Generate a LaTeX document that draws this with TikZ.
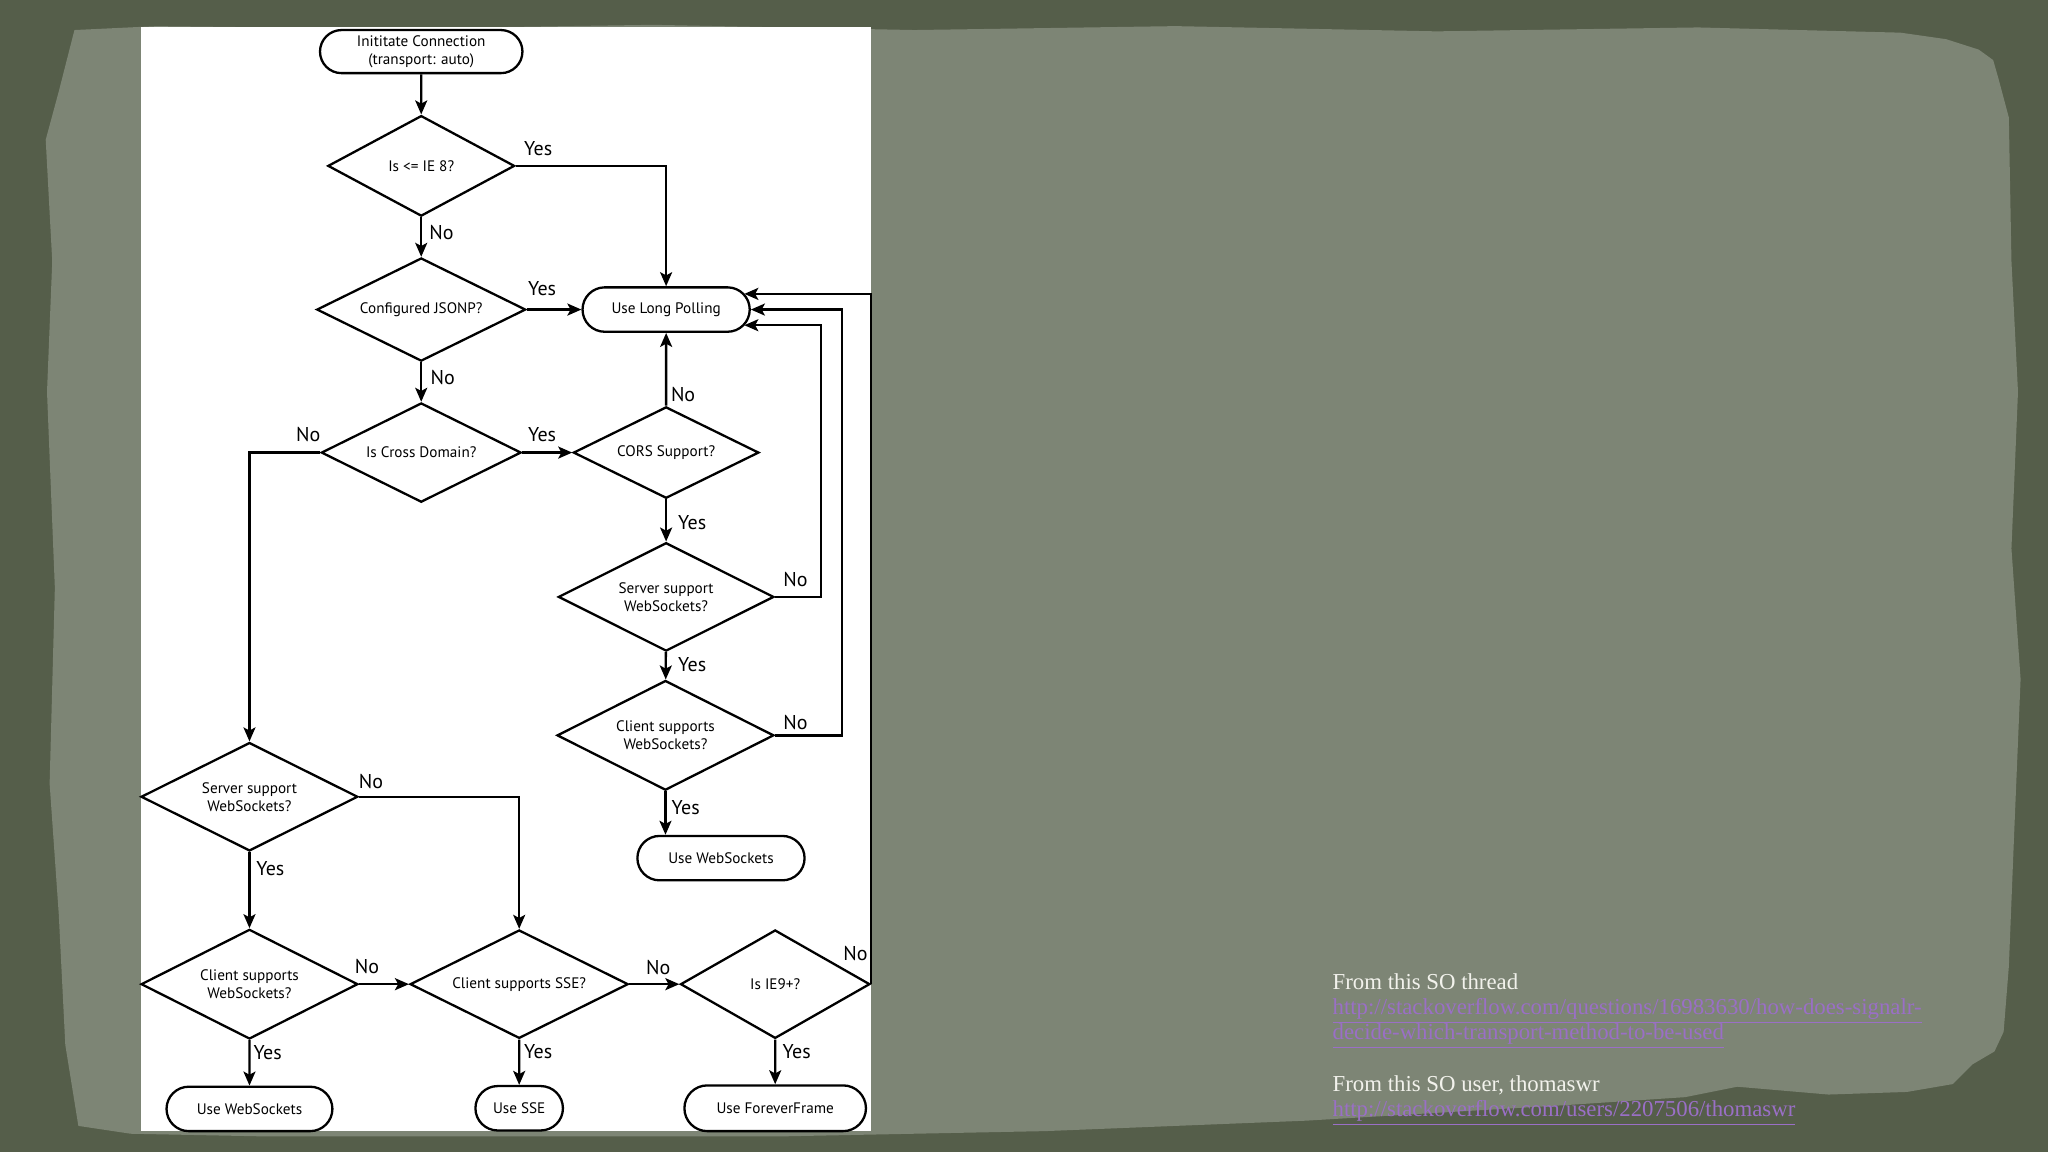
\documentclass[tikz,border=0pt]{standalone}
\usepackage{fontspec}
\setmainfont{Liberation Serif}
\newfontfamily\flowfont{PT Sans}
\usetikzlibrary{shapes.geometric,shapes.misc,arrows.meta,calc}
\definecolor{framec}{HTML}{555E4A}
\definecolor{paperc}{HTML}{7D8575}
\definecolor{linkc}{HTML}{9A6FC6}
\definecolor{notec}{HTML}{F2F2EC}
\begin{document}
\begin{tikzpicture}[x=0.65306pt,y=-0.65306pt,
  sz/.style 2 args={minimum width=#1*0.65306pt, minimum height=#2*0.65306pt},
  dec/.style={diamond, draw, line width=1.15pt, inner sep=0pt, aspect=2, align=center,
    font=\flowfont\fontsize{7.6}{9}\selectfont},
  term/.style={rounded rectangle, draw, line width=1.15pt, inner sep=0pt, align=center,
    font=\flowfont\fontsize{7.6}{9}\selectfont},
  arr/.style={line width=1.15pt, -{Stealth[length=7pt,width=6pt,inset=1.6pt]}},
  lbl/.style={font=\flowfont\fontsize{10}{11}\selectfont, inner sep=0pt},
  note/.style={anchor=base west, inner sep=0pt, text=notec, font=\fontsize{11.4}{13}\selectfont},
  linknote/.style={anchor=base west, inner sep=0pt, text=linkc, font=\fontsize{11.4}{13}\selectfont}]
\useasboundingbox (0,0) rectangle (1568,882);
% background
\fill[framec] (0,0) rectangle (1568,882);
\fill[paperc] (57,23) -- (120,20) -- (300,22) -- (500,19) -- (700,23) -- (900,20) -- (1100,24)
  -- (1300,21) -- (1455,25) -- (1490,30) -- (1515,38) -- (1526,46) -- (1530,60) -- (1538,90)
  -- (1540,200) -- (1545,300) -- (1540,420) -- (1547,520) -- (1542,640) -- (1538,740)
  -- (1534,790) -- (1527,805) -- (1510,815) -- (1495,830) -- (1460,836) -- (1400,838)
  -- (1330,832) -- (1290,840) -- (1200,846) -- (1100,852) -- (1000,858) -- (900,862)
  -- (800,866) -- (700,868) -- (600,870) -- (400,870) -- (200,870) -- (100,868) -- (60,862)
  -- (50,800) -- (45,700) -- (38,600) -- (42,450) -- (36,300) -- (40,200) -- (35,107)
  -- (45,70) -- cycle;
\fill[white] (108,21) rectangle (667,866);
% nodes
\node[term, sz={155}{33}] (start) at (322.5,39.5) {Inititate Connection\\(transport: auto)};
\node[dec, sz={143}{77}] (d1) at (322.5,127) {Is <= IE 8?};
\node[dec, sz={160}{79}] (d2) at (322.5,237) {Configured JSONP?};
\node[term, sz={128}{34}] (lp) at (510,237) {Use Long Polling};
\node[dec, sz={153}{76}] (d3) at (322.5,346.5) {Is Cross Domain?};
\node[dec, sz={142}{70}] (d4) at (510,346.5) {CORS Support?};
\node[dec, sz={165}{83}] (d5) at (510,457) {Server support\\WebSockets?};
\node[dec, sz={166}{84}] (d6) at (509.5,563) {Client supports\\WebSockets?};
\node[term, sz={128}{34}] (ws1) at (552,657) {Use WebSockets};
\node[dec, sz={166}{83}] (d7) at (191,610) {Server support\\WebSockets?};
\node[dec, sz={166}{84}] (d8) at (191,753.5) {Client supports\\WebSockets?};
\node[dec, sz={167}{83}] (d9) at (397.5,753.5) {Client supports SSE?};
\node[dec, sz={145}{83}] (d10) at (593.5,753.5) {Is IE9+?};
\node[term, sz={127}{34}] (ws2) at (191,849) {Use WebSockets};
\node[term, sz={67}{34}] (sse) at (397.5,848.5) {Use SSE};
\node[term, sz={139}{35}] (ff) at (593.5,848.5) {Use ForeverFrame};
% connectors
\draw[arr] (start) -- (d1);
\draw[arr] (d1.east) -| (lp.north);
\draw[arr] (d1) -- (d2);
\draw[arr] (d2) -- (lp);
\draw[arr] (d2) -- (d3);
\draw[arr] (d3.west) -| (d7.north);
\draw[arr] (d3) -- (d4);
\draw[arr] (d4) -- (lp);
\draw[arr] (d4) -- (d5);
\draw[arr] (d5.east) -- ++(35,0) |- ($(lp.east)+(-5,12)$);
\draw[arr] (d5) -- (d6);
\draw[arr] (d6.east) -- ++(51,0) |- (lp.east);
\draw[arr] (d6.south) -- (d6.south |- ws1.north);
\draw[arr] (d7.east) -| (d9.north);
\draw[arr] (d7) -- (d8);
\draw[arr] (d8) -- (d9);
\draw[arr] (d8) -- (ws2);
\draw[arr] (d9) -- (d10);
\draw[arr] (d9) -- (sse);
\draw[arr] (d10.east) |- ($(lp.east)+(-5,-12)$);
\draw[arr] (d10) -- (ff);
% labels
\node[lbl] (l1) at (412,114) {Yes};
\node[lbl] (l2) at (338,178) {No};
\node[lbl] (l3) at (415,221) {Yes};
\node[lbl] (l4) at (339,289) {No};
\node[lbl] (l5) at (236,333) {No};
\node[lbl] (l6) at (415,333) {Yes};
\node[lbl] (l7) at (523,302) {No};
\node[lbl] (l8) at (530,400) {Yes};
\node[lbl] (l9) at (609,444) {No};
\node[lbl] (l10) at (530,509) {Yes};
\node[lbl] (l11) at (609,553) {No};
\node[lbl] (l12) at (525,618) {Yes};
\node[lbl] (l13) at (284,598) {No};
\node[lbl] (l14) at (207,665) {Yes};
\node[lbl] (l15) at (281,740) {No};
\node[lbl] (l16) at (205,806) {Yes};
\node[lbl] (l17) at (504,741) {No};
\node[lbl] (l18) at (412,805) {Yes};
\node[lbl] (l19) at (655,730) {No};
\node[lbl] (l20) at (610,805) {Yes};
% notes
\node[note] (n1) at (1020,757.5) {From this SO thread};
\node[linknote] (n2) at (1020,777) {\underline{http://stackoverflow.com/questions/16983630/how-does-signalr-}};
\node[linknote] (n3) at (1020,796) {\underline{decide-which-transport-method-to-be-used}};
\node[note] (n4) at (1020,835.5) {From this SO user, thomaswr};
\node[linknote] (n5) at (1020,855) {\underline{http://stackoverflow.com/users/2207506/thomaswr}};
\end{tikzpicture}
\end{document}
